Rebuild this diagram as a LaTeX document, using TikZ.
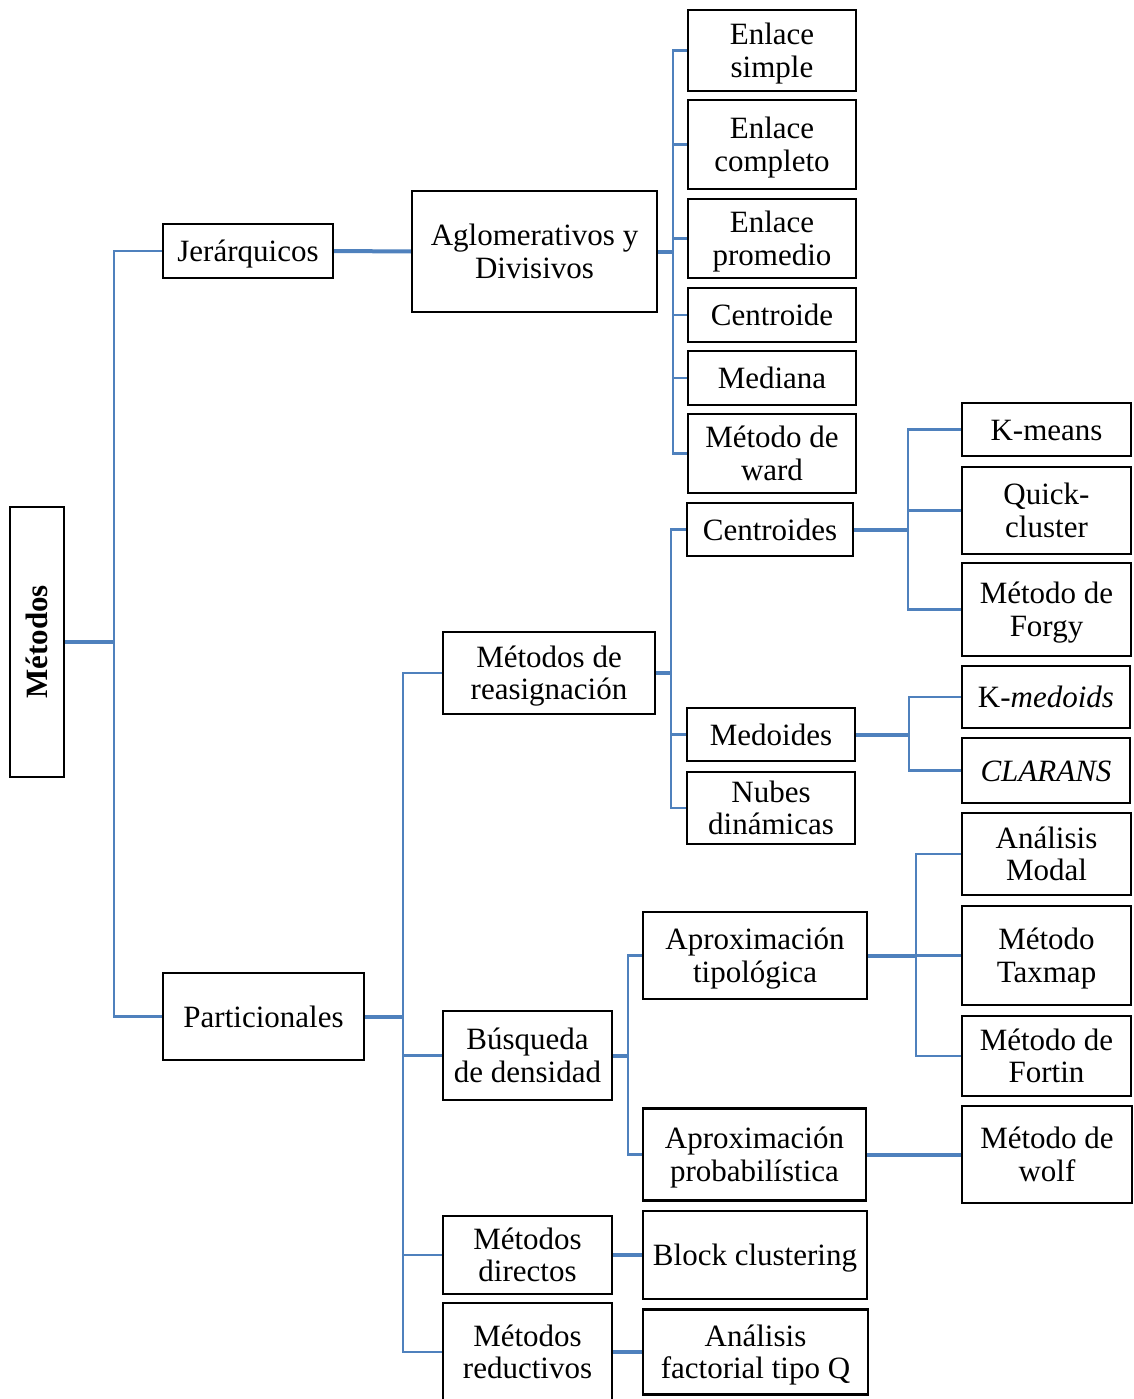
\documentclass[tikz,border=0pt]{standalone}
\usepackage{fontspec}
\setmainfont{Liberation Serif}
\definecolor{linkblue}{RGB}{79,129,189}
\newcommand\ls{\rule[-8pt]{0pt}{37pt}}
\setlength{\lineskiplimit}{-60pt}
\begin{document}
\begin{tikzpicture}[x=1pt,y=-1pt,
  box/.style={draw=black,line width=2.2pt,rectangle,inner sep=0pt,align=center,
    font=\fontsize{31}{32.5}\selectfont},
  thinlink/.style={draw=linkblue,line width=2.6pt},
  thicklink/.style={draw=linkblue,line width=4pt}]
\useasboundingbox (0,0) rectangle (1133,1399);
% nodes
\node[box,minimum width=54,minimum height=270] (metodos) at (37,642) {\rotatebox{90}{\bfseries Métodos}};
\node[box,minimum width=170,minimum height=54] (jer) at (248,251) {\ls Jerárquicos};
\node[box,minimum width=245,minimum height=121] (aglo) at (534.5,251.5) {\ls Aglomerativos y\\\ls Divisivos};
\node[box,minimum width=168,minimum height=81] (es) at (772,50.5) {\ls Enlace\\\ls simple};
\node[box,minimum width=168,minimum height=89] (ec) at (772,144.5) {\ls Enlace\\\ls completo};
\node[box,minimum width=168,minimum height=79] (ep) at (772,238.5) {\ls Enlace\\\ls promedio};
\node[box,minimum width=168,minimum height=54] (cen) at (772,315) {\ls Centroide};
\node[box,minimum width=168,minimum height=54] (med) at (772,378) {\ls Mediana};
\node[box,minimum width=168,minimum height=79] (ward) at (772,453.5) {\ls Método de\\\ls ward};
\node[box,minimum width=201,minimum height=87] (part) at (263.5,1016.5) {\ls Particionales};
\node[box,minimum width=212,minimum height=82] (reas) at (549,673) {\ls Métodos de\\\ls reasignación};
\node[box,minimum width=166,minimum height=53] (centr) at (770,529.5) {\ls Centroides};
\node[box,minimum width=168,minimum height=53] (medo) at (771,734.5) {\ls Medoides};
\node[box,minimum width=168,minimum height=72] (nubes) at (771,808) {\ls Nubes\\\ls dinámicas};
\node[box,minimum width=169,minimum height=53] (kmeans) at (1046.5,429.5) {\ls K-means};
\node[box,minimum width=169,minimum height=87] (quick) at (1046.5,510.5) {\ls Quick-\\\ls cluster};
\node[box,minimum width=169,minimum height=93] (forgy) at (1046.5,609.5) {\ls Método de\\\ls Forgy};
\node[box,minimum width=168,minimum height=62] (kmed) at (1046,697) {\ls K-\textit{medoids}};
\node[box,minimum width=168,minimum height=65] (clarans) at (1046,770.5) {\ls\textit{CLARANS}};
\node[box,minimum width=169,minimum height=82] (modal) at (1046.5,854) {\ls Análisis\\\ls Modal};
\node[box,minimum width=169,minimum height=99] (taxmap) at (1046.5,955.5) {\ls Método\\\ls Taxmap};
\node[box,minimum width=169,minimum height=80] (fortin) at (1046.5,1056) {\ls Método de\\\ls Fortin};
\node[box,minimum width=170,minimum height=97] (wolf) at (1047,1154.5) {\ls Método de\\\ls wolf};
\node[box,minimum width=169,minimum height=89] (busq) at (527.5,1055.5) {\ls Búsqueda\\\ls de densidad};
\node[box,minimum width=169,minimum height=78] (dir) at (527.5,1255) {\ls Métodos\\\ls directos};
\node[box,minimum width=169,minimum height=98] (red) at (527.5,1352) {\ls Métodos\\\ls reductivos};
\node[box,minimum width=224,minimum height=87] (tipol) at (755,955.5) {\ls Aproximación\\\ls tipológica};
\node[box,minimum width=223,minimum height=92] (prob) at (754.5,1154.5) {\ls Aproximación\\\ls probabilística};
\node[box,minimum width=224,minimum height=88] (block) at (755,1255) {\ls Block clustering};
\node[box,minimum width=225,minimum height=85] (factq) at (755.5,1352) {\ls Análisis\\\ls factorial tipo Q};
% bus coordinates
\coordinate (b1) at (114,642);
\coordinate (b2) at (673,251.5);
\coordinate (b3) at (671,673);
\coordinate (b4) at (403,1016.5);
\coordinate (b5) at (628,1055.5);
\coordinate (b6) at (908,529.5);
\coordinate (b7) at (909,734.5);
\coordinate (b8) at (916,955.5);
% connectors
\draw[thinlink] (jer.west) -| (b1);
\draw[thinlink] (part.west) -| (b1);
\draw[thicklink] (metodos.east) -- (b1);
\draw[thicklink] (jer.east) -- (aglo.west);
\foreach \n in {es,ec,ep,cen,med,ward} \draw[thinlink] (\n.west) -| (b2);
\draw[thicklink] (aglo.east) -- (b2);
\foreach \n in {reas,busq,dir,red} \draw[thinlink] (\n.west) -| (b4);
\draw[thicklink] (part.east) -- (b4);
\foreach \n in {centr,medo,nubes} \draw[thinlink] (\n.west) -| (b3);
\draw[thicklink] (reas.east) -- (b3);
\foreach \n in {kmeans,quick,forgy} \draw[thinlink] (\n.west) -| (b6);
\draw[thicklink] (centr.east) -- (b6);
\foreach \n in {kmed,clarans} \draw[thinlink] (\n.west) -| (b7);
\draw[thicklink] (medo.east) -- (b7);
\foreach \n in {tipol,prob} \draw[thinlink] (\n.west) -| (b5);
\draw[thicklink] (busq.east) -- (b5);
\foreach \n in {modal,taxmap,fortin} \draw[thinlink] (\n.west) -| (b8);
\draw[thicklink] (tipol.east) -- (b8);
\draw[thicklink] (prob.east) -- (wolf.west);
\draw[thicklink] (dir.east) -- (block.west);
\draw[thicklink] (red.east) -- (factq.west);
\end{tikzpicture}
\end{document}
